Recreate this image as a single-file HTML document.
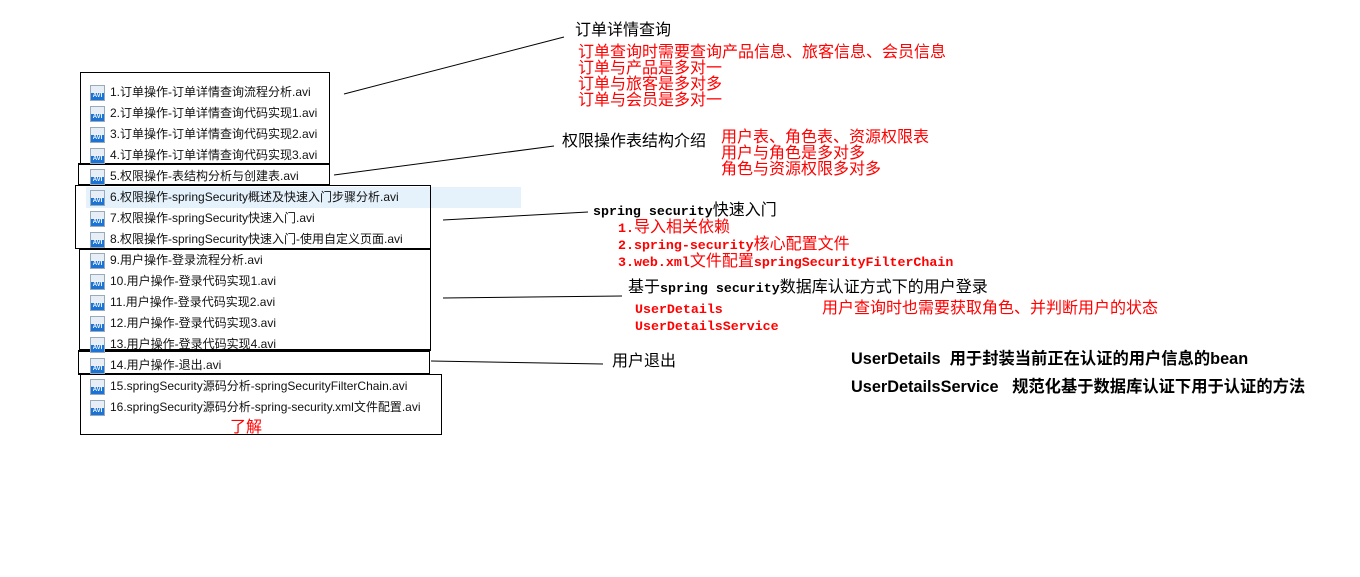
<!DOCTYPE html>
<html><head><meta charset="utf-8"><style>
body{margin:0;width:1360px;height:577px;background:#fff;position:relative;overflow:hidden;font-family:"Liberation Sans","Noto Sans CJK SC",sans-serif;}
.a{position:absolute;white-space:nowrap;}
.box{position:absolute;border:1px solid #000;box-sizing:border-box;}
.row{position:absolute;left:90px;height:21px;font-size:12px;line-height:22px;color:#111;}
.ic{display:inline-block;width:15px;height:16px;vertical-align:middle;margin-right:5px;position:relative;background:#e8eef5;border:1px solid #9ab;box-sizing:border-box;}
.ic:after{content:"AVI";position:absolute;left:0;right:0;bottom:0;height:7px;background:#1b73d6;color:#fff;font-size:6px;line-height:7px;text-align:center;font-weight:bold;}
.red{color:#f00;}
.cj{font-family:"Liberation Sans","Noto Sans CJK SC",sans-serif;font-size:16px;line-height:16px;}
.m{font-family:"Liberation Mono","Noto Sans CJK SC",monospace;font-weight:bold;font-size:13.3px;}
</style></head><body>
<div class="a" style="left:86px;top:187px;width:435px;height:21px;background:#e5f1fb;"></div>
<div class="box" style="left:80px;top:72px;width:250px;height:92px;"></div>
<div class="box" style="left:78px;top:163px;width:252px;height:22px;border-width:2px 1px 1px 1px;"></div>
<div class="box" style="left:75px;top:185px;width:356px;height:64px;"></div>
<div class="box" style="left:79px;top:248px;width:352px;height:103px;border-width:2px 1px 2px 1px;"></div>
<div class="box" style="left:78px;top:350px;width:352px;height:25px;border-width:2px 1px 2px 1px;"></div>
<div class="box" style="left:80px;top:374px;width:362px;height:61px;"></div>

<div class="row" style="top:81px"><span class="ic"></span>1.订单操作-订单详情查询流程分析.avi</div>
<div class="row" style="top:102px"><span class="ic"></span>2.订单操作-订单详情查询代码实现1.avi</div>
<div class="row" style="top:123px"><span class="ic"></span>3.订单操作-订单详情查询代码实现2.avi</div>
<div class="row" style="top:144px"><span class="ic"></span>4.订单操作-订单详情查询代码实现3.avi</div>
<div class="row" style="top:165px"><span class="ic"></span>5.权限操作-表结构分析与创建表.avi</div>
<div class="row" style="top:186px"><span class="ic"></span>6.权限操作-springSecurity概述及快速入门步骤分析.avi</div>
<div class="row" style="top:207px"><span class="ic"></span>7.权限操作-springSecurity快速入门.avi</div>
<div class="row" style="top:228px"><span class="ic"></span>8.权限操作-springSecurity快速入门-使用自定义页面.avi</div>
<div class="row" style="top:249px"><span class="ic"></span>9.用户操作-登录流程分析.avi</div>
<div class="row" style="top:270px"><span class="ic"></span>10.用户操作-登录代码实现1.avi</div>
<div class="row" style="top:291px"><span class="ic"></span>11.用户操作-登录代码实现2.avi</div>
<div class="row" style="top:312px"><span class="ic"></span>12.用户操作-登录代码实现3.avi</div>
<div class="row" style="top:333px"><span class="ic"></span>13.用户操作-登录代码实现4.avi</div>
<div class="row" style="top:354px"><span class="ic"></span>14.用户操作-退出.avi</div>
<div class="row" style="top:375px"><span class="ic"></span>15.springSecurity源码分析-springSecurityFilterChain.avi</div>
<div class="row" style="top:396px"><span class="ic"></span>16.springSecurity源码分析-spring-security.xml文件配置.avi</div>
<div class="a red cj" style="left:230px;top:420px;">了解</div>

<svg class="a" style="left:0;top:0" width="1360" height="577">
<g stroke="#000" stroke-width="1" fill="none">
<line x1="344" y1="94" x2="564" y2="37"/>
<line x1="334" y1="175" x2="554" y2="146"/>
<line x1="443" y1="220" x2="588" y2="212"/>
<line x1="443" y1="298" x2="622" y2="296"/>
<line x1="431" y1="361" x2="603" y2="364"/>
</g></svg>

<div class="a cj" style="left:575px;top:23px;">订单详情查询</div>
<div class="a red cj" style="left:578px;top:45px;">订单查询时需要查询产品信息、旅客信息、会员信息<br>订单与产品是多对一<br>订单与旅客是多对多<br>订单与会员是多对一</div>
<div class="a cj" style="left:562px;top:134px;">权限操作表结构介绍</div>
<div class="a red cj" style="left:721px;top:130px;">用户表、角色表、资源权限表<br>用户与角色是多对多<br>角色与资源权限多对多</div>
<div class="a cj" style="left:593px;top:203px;"><span class="m">spring security</span>快速入门</div>
<div class="a red cj" style="left:618px;top:220px;"><span class="m">1.</span>导入相关依赖<br><span class="m">2.spring-security</span>核心配置文件<br><span class="m">3.web.xml</span>文件配置<span class="m">springSecurityFilterChain</span></div>
<div class="a cj" style="left:628px;top:280px;">基于<span class="m">spring security</span>数据库认证方式下的用户登录</div>
<div class="a red cj" style="left:635px;top:301px;"><span class="m">UserDetails</span><br><span class="m">UserDetailsService</span></div>
<div class="a red cj" style="left:822px;top:301px;">用户查询时也需要获取角色、并判断用户的状态</div>
<div class="a cj" style="left:612px;top:354px;">用户退出</div>
<div class="a" style="left:851px;top:349px;font-size:16.3px;font-weight:bold;line-height:20px;">UserDetails&nbsp; 用于封装当前正在认证的用户信息的bean</div>
<div class="a" style="left:851px;top:377px;font-size:16.3px;font-weight:bold;line-height:20px;">UserDetailsService&nbsp;&nbsp; 规范化基于数据库认证下用于认证的方法</div>
</body></html>
